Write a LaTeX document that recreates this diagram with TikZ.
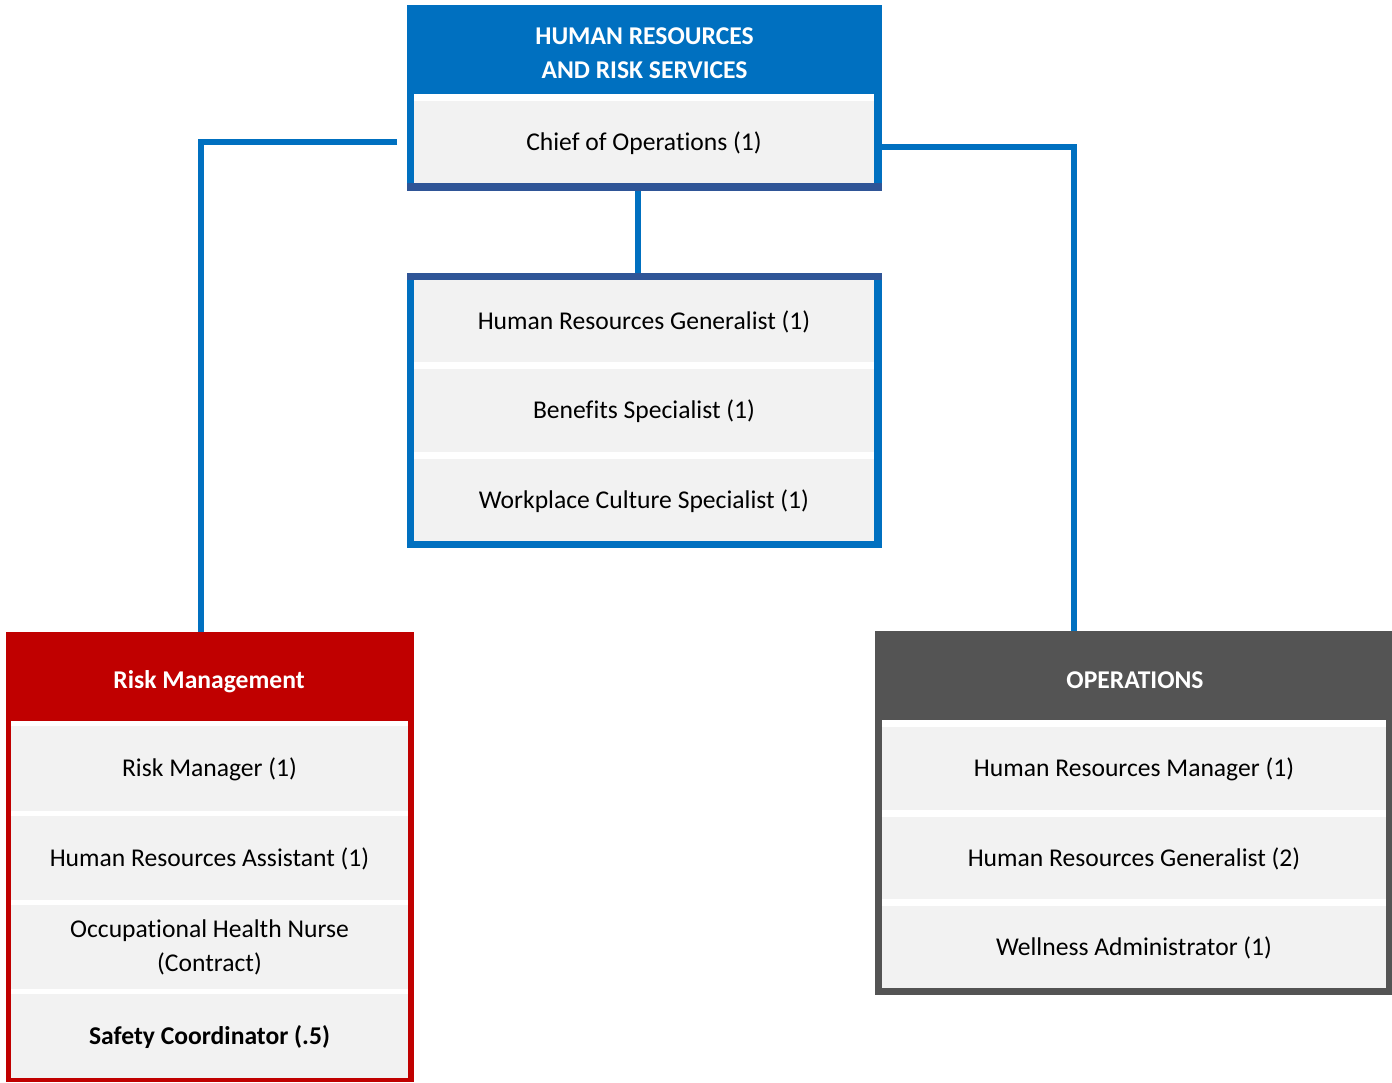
\documentclass[tikz,border=0pt]{standalone}
\usepackage{fontspec}
\setmainfont{Carlito}[Ligatures={NoCommon}]
\definecolor{hrblue}{HTML}{0070C0}
\definecolor{hrnavy}{HTML}{2F5597}
\definecolor{riskred}{HTML}{C00000}
\definecolor{opsgray}{HTML}{545454}
\definecolor{cellgray}{HTML}{F2F2F2}
\tikzset{
  txt/.style={font=\fontsize{25.6pt}{34pt}\selectfont, align=center, text=black,
    text depth=2pt},
  frame/.style={inner sep=0pt, outer sep=0pt, draw=none},
  cell/.style={frame, txt, fill=cellgray},
  hdr/.style={txt, text=white, font=\fontsize{25.6pt}{34pt}\selectfont\bfseries},
  conn/.style={draw=hrblue, line width=6pt}
}
\begin{document}
\begin{tikzpicture}[x=1pt,y=-1pt]
\useasboundingbox (0,0) rectangle (1392,1082);

% ---- top unit: Human Resources and Risk Services ----
\node[frame, fill=hrblue, minimum width=475pt, minimum height=186pt] (topbox) at (644.5,98) {};
\fill[hrnavy] (407,183) rectangle (882,191);
\fill[white] (414,94) rectangle (874,183);
\node[hdr] (tophdr) at (644.5,54) {HUMAN RESOURCES\\AND RISK SERVICES};
\node[cell, minimum width=460pt, minimum height=82pt] (chief) at (644,142) {Chief of Operations (1)};

% ---- middle unit ----
\node[frame, fill=hrblue, minimum width=475pt, minimum height=275pt] (midbox) at (644.5,410.5) {};
\fill[hrnavy] (407,273) rectangle (882,280);
\fill[white] (414,280) rectangle (874,541);
\node[cell, minimum width=460pt, minimum height=81.7pt] (hrgen) at (644,320.85) {Human Resources Generalist (1)};
\node[cell, minimum width=460pt, minimum height=82.7pt] (benef) at (644,410.35) {Benefits Specialist (1)};
\node[cell, minimum width=460pt, minimum height=82pt] (culture) at (644,500) {Workplace Culture Specialist (1)};

% ---- Risk Management unit ----
\node[frame, fill=riskred, minimum width=408pt, minimum height=450pt] (riskbox) at (210,857) {};
\fill[white] (11,721) rectangle (408,1078);
\node[hdr] (riskhdr) at (209,681) {Risk Management};
\node[cell, minimum width=397pt, minimum height=84.7pt] (riskmgr) at (209.5,768.35) {Risk Manager (1)};
\node[cell, minimum width=397pt, minimum height=84pt] (hrasst) at (209.5,858) {Human Resources Assistant (1)};
\node[cell, minimum width=397pt, minimum height=84pt] (nurse) at (209.5,947) {Occupational Health Nurse\\(Contract)};
\node[cell, minimum width=397pt, minimum height=84pt, font=\fontsize{25.6pt}{34pt}\selectfont\bfseries] (safety) at (209.5,1036) {Safety Coordinator (.5)};

% ---- Operations unit ----
\node[frame, fill=opsgray, minimum width=517pt, minimum height=364pt] (opsbox) at (1133.5,813) {};
\fill[white] (882,720) rectangle (1386,988);
\node[hdr] (opshdr) at (1135,681) {OPERATIONS};
\node[cell, minimum width=504pt, minimum height=83.3pt] (hrmgr) at (1134,768.35) {Human Resources Manager (1)};
\node[cell, minimum width=504pt, minimum height=82.3pt] (hrgen2) at (1134,857.85) {Human Resources Generalist (2)};
\node[cell, minimum width=504pt, minimum height=82.3pt] (well) at (1134,946.85) {Wellness Administrator (1)};

% ---- reporting lines ----
\draw[conn] ([xshift=-10pt]topbox.west |- chief.center) -| ([xshift=-9pt]riskbox.north);
\draw[conn] ([yshift=-5pt]topbox.east |- chief.center) -| ([xshift=-60pt]opsbox.north);
\draw[conn] ([xshift=-6.5pt]topbox.south) -- ([xshift=-6.5pt]midbox.north);
\end{tikzpicture}
\end{document}
